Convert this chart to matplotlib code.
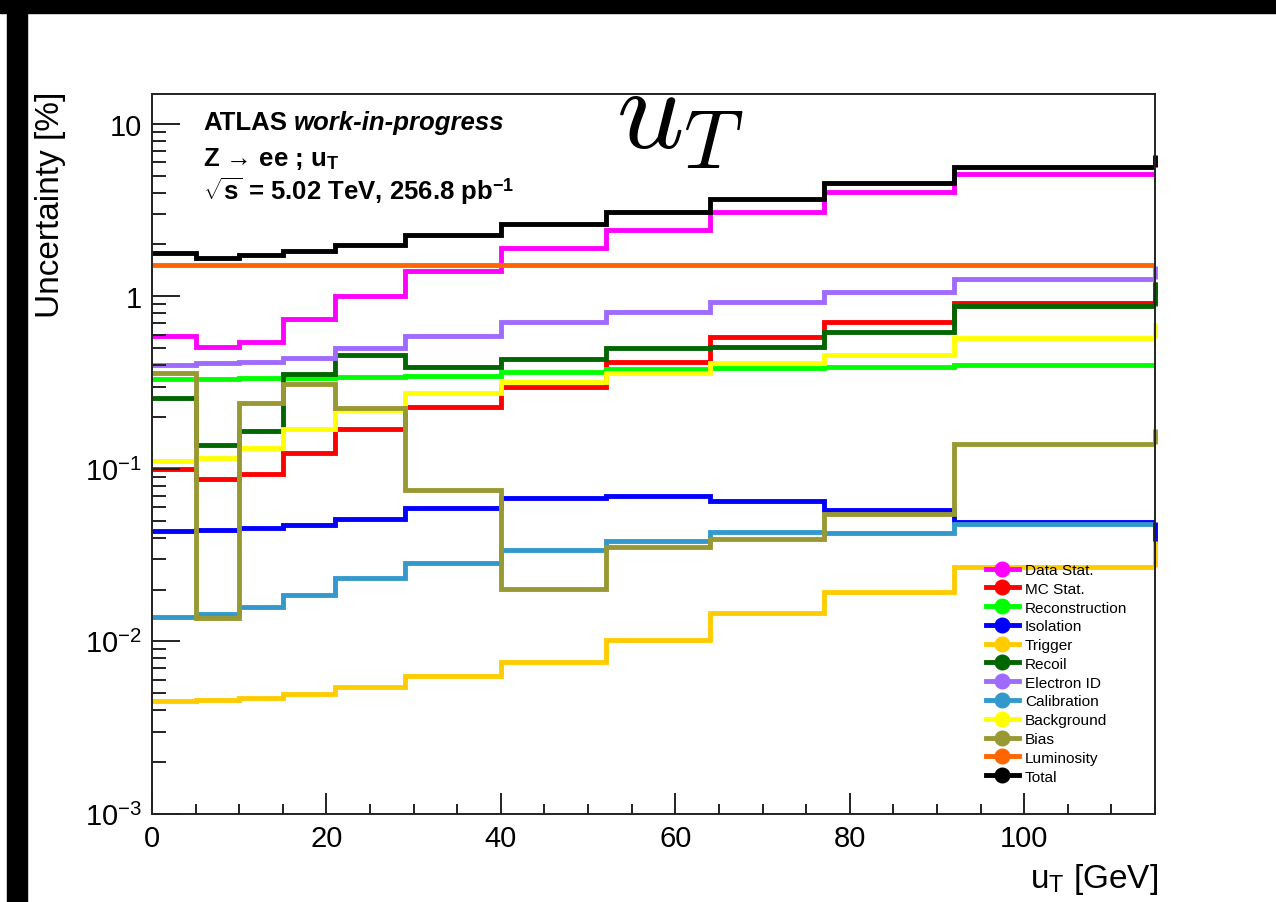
import matplotlib
matplotlib.use('Agg')
import matplotlib.pyplot as plt
from matplotlib.lines import Line2D
from matplotlib.patches import Rectangle
from matplotlib.ticker import FixedLocator, FixedFormatter, MultipleLocator, LogLocator, NullFormatter

plt.rcParams['font.family'] = ['Liberation Sans', 'DejaVu Sans']
plt.rcParams['mathtext.fontset'] = 'custom'
plt.rcParams['mathtext.rm'] = 'Liberation Sans'
plt.rcParams['mathtext.it'] = 'Liberation Serif:italic'
plt.rcParams['mathtext.bf'] = 'Liberation Sans:bold'

# bin edges of u_T [GeV]
edges = [0, 5, 10, 15, 21, 29, 40, 52, 64, 77, 92, 115]

# uncertainties in % per bin
data_stat = [0.59, 0.506, 0.546, 0.739, 1.0, 1.40, 1.90, 2.42, 3.10, 4.05, 5.10]
mc_stat = [0.100, 0.087, 0.093, 0.123, 0.170, 0.229, 0.300, 0.414, 0.584, 0.713, 0.910]
reconstruction = [0.332, 0.333, 0.335, 0.337, 0.340, 0.346, 0.366, 0.382, 0.386, 0.391, 0.400]
isolation = [0.0434, 0.0440, 0.0456, 0.0473, 0.0516, 0.0596, 0.068, 0.070, 0.065, 0.0577, 0.0494]
trigger = [0.00452, 0.00458, 0.00471, 0.00493, 0.00546, 0.0063, 0.0076, 0.0102, 0.0147, 0.0194, 0.0271]
recoil = [0.259, 0.137, 0.166, 0.353, 0.457, 0.391, 0.433, 0.504, 0.510, 0.624, 0.883]
electron_id = [0.403, 0.409, 0.418, 0.440, 0.500, 0.590, 0.713, 0.815, 0.930, 1.06, 1.27]
calibration = [0.0139, 0.0144, 0.0159, 0.0187, 0.0232, 0.0286, 0.0338, 0.0382, 0.0433, 0.0425, 0.0479]
background = [0.111, 0.115, 0.133, 0.170, 0.219, 0.277, 0.320, 0.358, 0.409, 0.457, 0.576]
bias = [0.358, 0.0136, 0.240, 0.309, 0.226, 0.076, 0.0201, 0.0354, 0.0395, 0.0545, 0.139]
luminosity = [1.52, 1.52, 1.52, 1.52, 1.52, 1.52, 1.52, 1.52, 1.52, 1.52, 1.52]
total = [1.78, 1.68, 1.74, 1.84, 1.98, 2.27, 2.63, 3.07, 3.65, 4.56, 5.62]

# value the line jumps to at the right edge (overflow), None = no jump
overflow = [None, 1.22, None, 0.037, 0.038, 1.22, 1.51, None, 0.70, 0.170, None, 6.57]

labels = ['Data Stat.', 'MC Stat.', 'Reconstruction', 'Isolation', 'Trigger',
          'Recoil', 'Electron ID', 'Calibration', 'Background', 'Bias',
          'Luminosity', 'Total']
colors = ['#ff00ff', '#ff0000', '#00ff00', '#0000ff', '#ffcc00', '#006600',
          '#9f6bff', '#3399cc', '#ffff00', '#999933', '#ff6600', '#000000']
series = [data_stat, mc_stat, reconstruction, isolation, trigger, recoil,
          electron_id, calibration, background, bias, luminosity, total]

W, H = 1276, 903
fig = plt.figure(figsize=(W / 100, H / 100), dpi=100)
ax = fig.add_axes([152 / W, 1 - 815 / H, (1155 - 152) / W, (815 - 95) / H])

lw = 3.5
for vals, col, over in zip(series, colors, overflow):
    ax.stairs(vals, edges, baseline=None, color=col, lw=lw)
    if over is not None:
        ax.plot([edges[-1], edges[-1]], [vals[-1], over], color=col, lw=lw,
                clip_on=False, solid_capstyle='butt')

ax.set_yscale('log')
ax.set_xlim(0, 115)
ax.set_ylim(1e-3, 14.9)

ax.xaxis.set_major_locator(MultipleLocator(20))
ax.xaxis.set_minor_locator(MultipleLocator(5))
ax.yaxis.set_major_locator(FixedLocator([1e-3, 1e-2, 1e-1, 1, 10]))
ax.yaxis.set_major_formatter(FixedFormatter(
    [r'$10^{-3}$', r'$10^{-2}$', r'$10^{-1}$', '1', '10']))
ax.yaxis.set_minor_locator(LogLocator(base=10, subs=range(2, 10), numticks=20))
ax.yaxis.set_minor_formatter(NullFormatter())

ax.tick_params(axis='both', which='both', direction='in', top=False, right=False,
               labelsize=21, width=1.4, color='#222222')
ax.tick_params(axis='x', which='major', length=15, pad=7)
ax.tick_params(axis='x', which='minor', length=7.5)
ax.tick_params(axis='y', which='major', length=20, pad=7)
ax.tick_params(axis='y', which='minor', length=10)
for sp in ax.spines.values():
    sp.set_linewidth(1.4)
    sp.set_color('#222222')

# axis titles
fig.text(51 / W, 1 - 92 / H, 'Uncertainty [%]', rotation=90, ha='center', va='top',
         fontsize=24)
fig.text(1158 / W, 1 - 888 / H, r'u$_\mathregular{T}$ [GeV]', ha='right',
         va='baseline', fontsize=24)

# labels
fig.text(203 / W, 1 - 130 / H, 'ATLAS', fontsize=18.5, fontweight='bold')
fig.text(294 / W, 1 - 130 / H, 'work-in-progress', fontsize=18.5, fontweight='bold',
         style='italic')
fig.text(203 / W, 1 - 166 / H, 'Z \u2192 ee ; u$_\\mathbf{T}$', fontsize=18.5,
         fontweight='bold')
fig.text(203 / W, 1 - 200 / H, r'$\sqrt{\mathbf{s}}$ = 5.02 TeV, 256.8 pb$^\mathbf{-1}$',
         fontsize=18.5, fontweight='bold')
fig.text(616 / W, 1 - 149 / H, r'$u_T$', fontsize=85, va='baseline',
         math_fontfamily='cm')

# legend
handles = [Line2D([], [], color=c, lw=lw, marker='o', markersize=10.5)
           for c in colors]
fig.legend(handles, labels, loc='upper left',
           bbox_to_anchor=(986 / W, 1 - 564 / H), frameon=False, fontsize=11.1,
           borderpad=0, borderaxespad=0, labelspacing=0.31, handlelength=2.13,
           handletextpad=0.4)

# black bands at the picture edges
fig.patches.append(Rectangle((0, 1 - 14 / H), 1, 14 / H, transform=fig.transFigure,
                             color='black', zorder=10))
fig.patches.append(Rectangle((7 / W, 0), 20 / W, 1, transform=fig.transFigure,
                             color='black', zorder=10))

plt.savefig('out.png', dpi=100)
plt.close()
